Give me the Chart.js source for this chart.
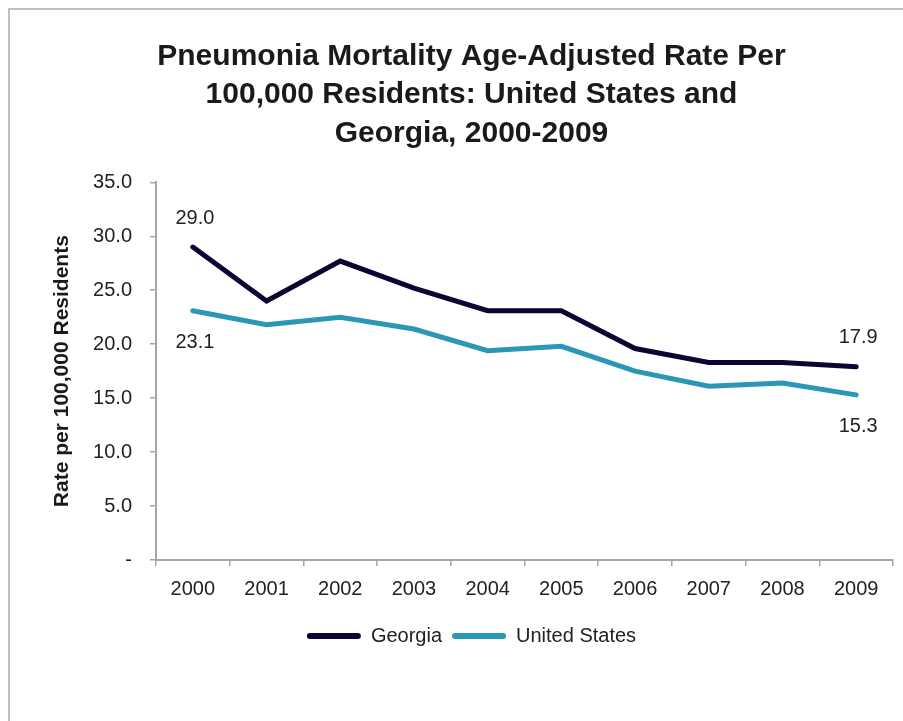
<!DOCTYPE html>
<html>
<head>
<meta charset="utf-8">
<script src="https://cdn.jsdelivr.net/npm/chart.js@4/dist/chart.umd.min.js"></script>
<style>
  html, body { margin: 0; padding: 0; background: #fff; overflow: hidden; }
  #frame { position: absolute; left: 8px; top: 8px; width: 1000px; height: 800px; border-left: 2px solid #c0c0c0; border-top: 2px solid #c0c0c0; }
  #wrap { position: absolute; left: 0; top: 0; width: 903px; height: 721px; }
</style>
</head>
<body>
<div id="frame"></div>
<div id="wrap"><canvas id="pneumoniaChart" width="903" height="721"></canvas></div>
<script>
const years = ['2000', '2001', '2002', '2003', '2004', '2005', '2006', '2007', '2008', '2009'];
const georgia = [29.0, 24.0, 27.7, 25.2, 23.1, 23.1, 19.6, 18.3, 18.3, 17.9];
const unitedStates = [23.1, 21.8, 22.5, 21.4, 19.4, 19.8, 17.5, 16.1, 16.4, 15.3];
const yTicks = [0, 5, 10, 15, 20, 25, 30, 35];

const labelFont = "'Liberation Sans', Arial, sans-serif";

// draws the first/last value labels (above for Georgia, below for US)
const endLabels = {
    id: 'endLabels',
    afterDatasetsDraw(chart) {
        const ctx = chart.ctx;
        ctx.save();
        ctx.font = '20px ' + labelFont;
        ctx.fillStyle = '#222';
        ctx.textAlign = 'center';
        ctx.textBaseline = 'middle';
        chart.data.datasets.forEach((ds, i) => {
            const meta = chart.getDatasetMeta(i);
            const offset = i === 0 ? -29 : 32;
            [0, ds.data.length - 1].forEach(idx => {
                const pt = meta.data[idx];
                ctx.fillText(ds.data[idx].toFixed(1), pt.x + 2, pt.y + offset);
            });
        });
        ctx.restore();
    }
};

const chart = new Chart(document.getElementById('pneumoniaChart'), {
    type: 'line',
    data: {
        labels: years,
        datasets: [
            {
                label: 'Georgia',
                data: georgia,
                borderColor: '#0b0533',
                backgroundColor: '#0b0533',
                borderWidth: 5,
                borderCapStyle: 'round',
                fill: false,
                tension: 0,
            },
            {
                label: 'United States',
                data: unitedStates,
                borderColor: '#2a97b5',
                backgroundColor: '#2a97b5',
                borderWidth: 5,
                borderCapStyle: 'round',
                fill: false,
                tension: 0,
            },
        ],
    },
    options: {
        responsive: false,
        animation: false,
        layout: {
            padding: { top: 38, left: 50, right: 10, bottom: 65 },
        },
        elements: {
            point: { radius: 0, hoverRadius: 0 },
        },
        plugins: {
            title: {
                display: true,
                text: ['Pneumonia Mortality Age-Adjusted Rate Per', '100,000 Residents: United States and', 'Georgia, 2000-2009'],
                color: '#1a1a1a',
                font: { family: labelFont, size: 30, weight: 'bold', lineHeight: 1.27 },
                padding: { top: 0, bottom: 30 },
            },
            legend: {
                position: 'bottom',
                labels: {
                    color: '#222',
                    font: { family: labelFont, size: 20 },
                    boxWidth: 54,
                    boxHeight: 6,
                    padding: 10,
                    useBorderRadius: true,
                    borderRadius: 3,
                    generateLabels(c) {
                        return Chart.defaults.plugins.legend.labels.generateLabels(c).map(l => {
                            l.lineWidth = 0;
                            return l;
                        });
                    },
                },
            },
            tooltip: { enabled: false },
        },
        scales: {
            x: {
                offset: true,
                grid: {
                    offset: true,
                    drawOnChartArea: false,
                    drawTicks: true,
                    tickLength: 6,
                    color: '#a6a6a6',
                    lineWidth: 1.5,
                },
                border: { color: '#a6a6a6', width: 2 },
                ticks: {
                    color: '#222',
                    font: { family: labelFont, size: 20 },
                    padding: 11,
                    maxRotation: 0,
                },
                afterFit(scale) { scale.height = 56; },
            },
            y: {
                min: 0,
                max: 35,
                afterBuildTicks(scale) { scale.ticks = yTicks.map(v => ({ value: v })); },
                grid: {
                    drawOnChartArea: false,
                    drawTicks: true,
                    tickLength: 6,
                    color: '#a6a6a6',
                    lineWidth: 1.5,
                },
                border: { color: '#a6a6a6', width: 2 },
                ticks: {
                    color: '#222',
                    font: { family: labelFont, size: 20 },
                    padding: 18,
                    callback: v => (v === 0 ? '-' : v.toFixed(1)),
                },
                title: {
                    display: true,
                    text: 'Rate per 100,000 Residents',
                    color: '#1a1a1a',
                    font: { family: labelFont, size: 21, weight: 'bold' },
                    padding: 0,
                },
                afterFit(scale) { scale.width = 106; },
            },
        },
    },
    plugins: [endLabels],
});
</script>
</body>
</html>
